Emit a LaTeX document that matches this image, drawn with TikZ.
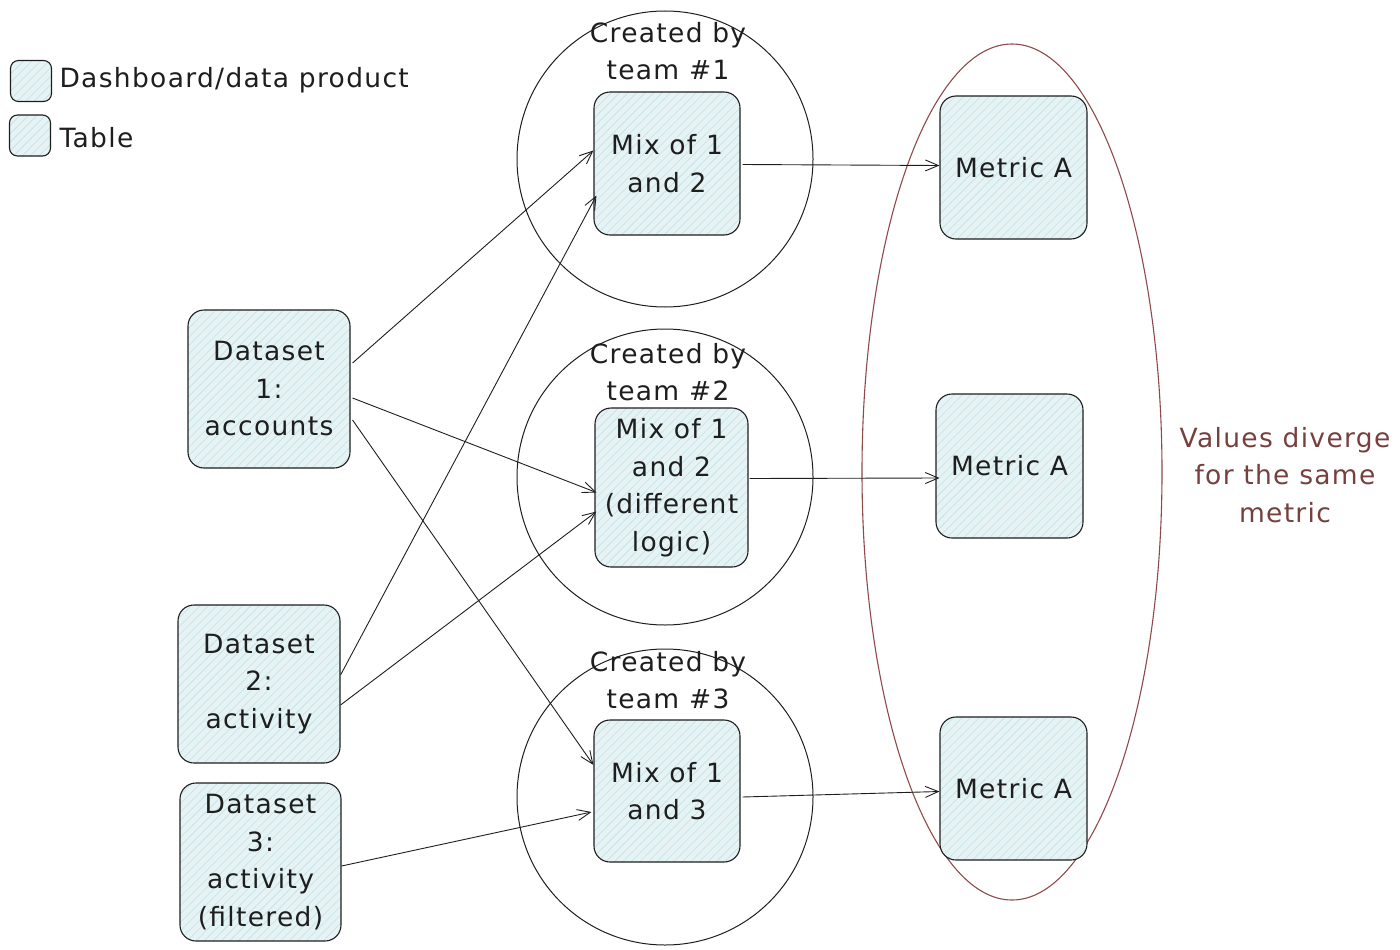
\documentclass[tikz,border=0pt]{standalone}
\usepackage{fontspec}
\setmainfont{DejaVu Sans}[LetterSpace=5]
\usetikzlibrary{arrows.meta,shapes.geometric,patterns.meta}
\definecolor{ink}{HTML}{1E1E1E}
\definecolor{boxfill}{HTML}{E6F3F5}
\definecolor{hatch}{HTML}{C4E0E5}
\definecolor{grpred}{HTML}{8E4A4A}
\definecolor{notered}{HTML}{76403F}
\tikzset{
  txt/.style={font=\fontsize{26.5}{37.5}\selectfont, text=ink, align=center},
  boxnode/.style={draw=ink, line width=1.1pt, rounded corners=16pt,
    preaction={fill=boxfill},
    pattern={Lines[angle=45,distance=6pt,line width=0.6pt]}, pattern color=hatch,
    txt, inner sep=0pt},
  legbox/.style={boxnode, rounded corners=8pt, minimum width=41pt, minimum height=41pt},
  teamcircle/.style={circle, draw=ink, line width=1pt, minimum size=296pt, inner sep=0pt},
  conn/.style={draw=ink, line width=0.9pt, -{Straight Barb[length=13pt,width=11pt,line width=0.9pt]}},
}
\begin{document}
\begin{tikzpicture}[x=1pt,y=-1pt]
\useasboundingbox (0,0) rectangle (1400,950);
% legend
\node[legbox] (lg1) at (31,81) {};
\node[legbox] (lg2) at (30,135.5) {};
\node[txt, anchor=west] (lgt1) at (56,80) {Dashboard/data product};
\node[txt, anchor=west] (lgt2) at (56,138) {Table};
% team circles
\node[teamcircle] (c1) at (665,159) {};
\node[teamcircle] (c2) at (665,477) {};
\node[teamcircle] (c3) at (665,797) {};
\node[txt] (l1) at (668,51) {Created by\\team \#1};
\node[txt] (l2) at (668,372) {Created by\\team \#2};
\node[txt] (l3) at (668,680) {Created by\\team \#3};
% group ellipse
\node[ellipse, draw=grpred, line width=1.1pt, minimum width=300pt, minimum height=856pt, inner sep=0pt] (grp) at (1012,472) {};
\node[txt, text=notered] (note) at (1285,475) {Values diverge\\for the same\\metric};
% datasets
\node[boxnode, minimum width=162pt, minimum height=158pt] (d1) at (269,389) {Dataset\\1:\\accounts};
\node[boxnode, minimum width=162pt, minimum height=158pt] (d2) at (259,684) {Dataset\\2:\\activity};
\node[boxnode, minimum width=161pt, minimum height=158pt] (d3) at (260.5,862) {Dataset\\3:\\activity\\(filtered)};
% mixes
\node[boxnode, minimum width=146pt, minimum height=143pt] (m1) at (667,163.5) {Mix of 1\\and 2};
\node[boxnode, minimum width=153pt, minimum height=159pt] (m2) at (671.5,487.5) {Mix of 1\\and 2\\(different\\logic)};
\node[boxnode, minimum width=146pt, minimum height=142pt] (m3) at (667,791) {Mix of 1\\and 3};
% metrics
\node[boxnode, minimum width=147pt, minimum height=143pt] (k1) at (1013.5,167.5) {Metric A};
\node[boxnode, minimum width=147pt, minimum height=144pt] (k2) at (1009.5,466) {Metric A};
\node[boxnode, minimum width=147pt, minimum height=143pt] (k3) at (1013.5,788.5) {Metric A};
% connectors
\draw[conn] ([xshift=2pt,yshift=26pt]d1.east) -- ([yshift=13pt]m1.west);
\draw[conn] ([xshift=2pt,yshift=-9pt]d1.east) -- ([xshift=2pt,yshift=-5pt]m2.west);
\draw[conn] ([xshift=2pt,yshift=-31pt]d1.east) -- ([yshift=26pt]m3.west);
\draw[conn] ([yshift=9pt]d2.east) -- ([xshift=3pt,yshift=-32pt]m1.west);
\draw[conn] ([yshift=-21pt]d2.east) -- ([xshift=2pt,yshift=-24pt]m2.west);
\draw[conn] ([yshift=-4pt]d3.east) -- ([xshift=-2pt,yshift=-21pt]m3.west);
\draw[conn] ([xshift=2pt,yshift=-1pt]m1.east) -- ([yshift=2pt]k1.west);
\draw[conn] ([xshift=1pt,yshift=9pt]m2.east) -- ([xshift=4pt,yshift=-12pt]k2.west);
\draw[conn] ([xshift=2pt,yshift=-6pt]m3.east) -- ([yshift=-3pt]k3.west);
\end{tikzpicture}
\end{document}
